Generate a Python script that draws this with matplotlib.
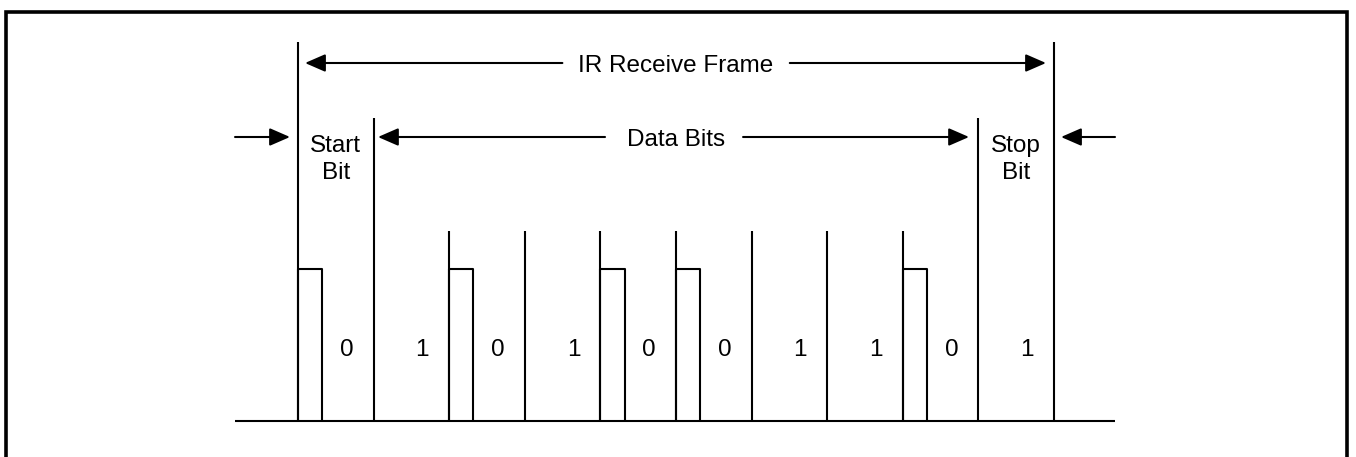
import matplotlib
matplotlib.use("Agg")
import matplotlib.pyplot as plt

# bit sequence of the received frame (start bit, 8 data bits, stop bit)
bit_values = [0, 1, 0, 1, 0, 0, 1, 1, 0, 1]
bit_names = ["Start\nBit", "Data Bits", "Stop\nBit"]
frame_title = "IR Receive Frame"

# timing in bit periods, levels in pixels above the baseline
pulse_width = 0.32
pulse_height = 152
edge_height = 190
data_height = 303
frame_height = 379
frame_arrow_y = 358
data_arrow_y = 284
label_y = 74
name_y = 264

plt.rcParams['font.family'] = ['Liberation Sans', 'DejaVu Sans']
FS = 17.5
LW = 1.5
DY = -2.5  # small nudge so text sits centred on the arrow lines

fig = plt.figure(figsize=(13.56, 4.57), dpi=100)
ax = fig.add_axes([0, 0, 1, 1])
period_px = 75.6
x0_px = 298
ax.set_xlim(-x0_px / period_px, (1356 - x0_px) / period_px)
ax.set_ylim(421 - 457, 421)
ax.axis('off')

n = len(bit_values)
kw = dict(color='black', lw=LW, solid_capstyle='butt')

# outer border (open at the bottom)
bl, br, bt = -3.869, 13.882, 409.5
ax.plot([bl, bl, br, br], [-40, bt, bt, -40], color='black', lw=2.6,
        solid_joinstyle='miter')

# baseline
ax.plot([-0.833, n + 0.807], [0, 0], **kw)

# frame edges and bit boundaries
ax.plot([0, 0], [0, frame_height], **kw)
ax.plot([n, n], [0, frame_height], **kw)
ax.plot([1, 1], [0, data_height], **kw)
ax.plot([n - 1, n - 1], [0, data_height], **kw)
for i in range(2, n - 1):
    ax.plot([i, i], [0, edge_height], **kw)

# pulses for zero bits
for i, b in enumerate(bit_values):
    if b == 0:
        ax.plot([i, i, i + pulse_width, i + pulse_width],
                [0, pulse_height, pulse_height, 0], **kw)

# bit labels
for i, b in enumerate(bit_values):
    ax.text(i + 0.645, label_y + DY, str(b), fontsize=FS, ha='center', va='center')


def arrow(x_tail, x_tip, y):
    ax.annotate('', xy=(x_tip, y), xytext=(x_tail, y),
                arrowprops=dict(arrowstyle='-|>,head_length=0.62,head_width=0.27',
                                mutation_scale=20, color='black', lw=LW,
                                shrinkA=0, shrinkB=0))


# frame arrow
ax.text(n / 2, frame_arrow_y + DY, frame_title, fontsize=FS, ha='center', va='center')
arrow(3.497, 0.093, frame_arrow_y)
arrow(6.505, 9.894, frame_arrow_y)

# data bits arrow
ax.text(n / 2, data_arrow_y + DY, bit_names[1], fontsize=FS, ha='center', va='center')
arrow(4.061, 1.058, data_arrow_y)
arrow(5.887, 8.876, data_arrow_y)

# outside arrows
arrow(-0.833, -0.106, data_arrow_y)
arrow(n + 0.807, n + 0.093, data_arrow_y)

ax.text(0.5, name_y + DY, bit_names[0], fontsize=FS, ha='center', va='center',
        linespacing=1.35)
ax.text(n - 0.5, name_y + DY, bit_names[2], fontsize=FS, ha='center', va='center',
        linespacing=1.35)

fig.savefig('out.png', dpi=100)
